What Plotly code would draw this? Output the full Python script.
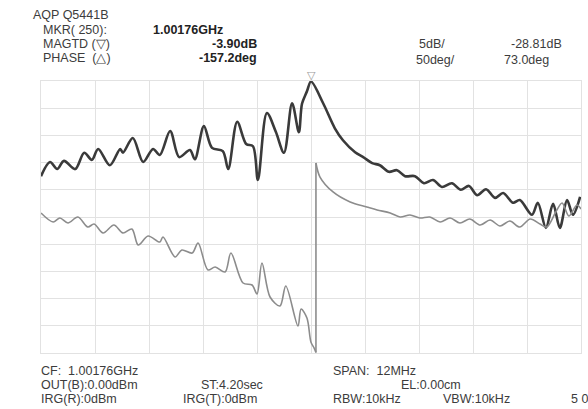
import plotly.graph_objects as go

# Frequency offset from CF (MHz), magnitude (dB)
mag_freq = [-6.00, -5.80, -5.64, -5.49, -5.24, -5.04, -4.87, -4.73, -4.47, -4.24, -4.18, -3.96,
            -3.73, -3.51, -3.36, -3.13, -2.93, -2.69, -2.58, -2.38, -2.20, -1.96, -1.84, -1.64,
            -1.44, -1.29, -1.18, -0.98, -0.78, -0.60, -0.42, -0.27, -0.20, -0.09, 0.00, 0.27,
            0.53, 0.71, 0.98, 1.16, 1.36, 1.53, 1.73, 1.91, 2.09, 2.31, 2.51, 2.71, 2.91, 3.13,
            3.33, 3.51, 3.69, 3.89, 4.09, 4.27, 4.49, 4.64, 4.91, 5.04, 5.22, 5.38, 5.53, 5.69,
            5.82, 5.98]
mag_db = [-21.3, -18.7, -20.0, -18.5, -20.0, -17.0, -18.3, -16.3, -19.3, -16.3, -17.0, -14.3,
          -18.7, -16.3, -17.4, -13.0, -17.8, -16.5, -18.2, -12.1, -16.1, -16.7, -20.0, -11.3,
          -15.4, -15.8, -22.0, -9.7, -13.2, -17.0, -7.9, -13.2, -8.0, -5.7, -3.9, -7.9,
          -12.5, -14.7, -16.9, -17.8, -18.9, -19.3, -20.5, -20.2, -21.3, -21.3, -22.6, -22.0, -23.3, -22.6,
          -23.8, -23.1, -24.8, -23.7, -25.3, -24.4, -26.2, -25.7, -28.4, -26.2, -30.8, -26.4, -30.8, -25.7,
          -28.4, -25.1]

# Phase (deg)
phase_freq = [-6.00, -5.73, -5.58, -5.40, -5.18, -4.96, -4.82, -4.62, -4.38, -4.18, -3.98, -3.84,
              -3.62, -3.36, -3.29, -3.02, -2.87, -2.64, -2.51, -2.29, -2.13, -1.91, -1.78, -1.51,
              -1.31, -1.20, -1.09, -0.91, -0.69, -0.56, -0.29, -0.22, -0.09, 0.00, 0.07, 0.11,
              0.11, 0.20, 0.49, 0.87, 1.24, 1.47, 1.76, 1.98, 2.20, 2.42, 2.64, 2.87, 3.09, 3.31,
              3.53, 3.76, 3.98, 4.20, 4.42, 4.64, 4.87, 5.09, 5.24, 5.44, 5.58, 5.73, 5.91, 6.00]
phase_deg = [80.4, 63.8, 71.2, 62.0, 73.0, 54.6, 60.1, 43.6, 58.3, 43.6, 50.9, 21.5,
             38.1, 27.0, 36.2, -0.5, 12.3, 6.8, 25.2, -24.4, -18.9, -28.1, 6.8, -48.3,
             -52.0, -68.5, -11.5, -74.0, -90.6, -53.8, -127.3, -96.1, -112.6, -157.2, -168.0, -176.0,
             172.3, 146.5, 119.0, 100.6, 91.4, 85.9, 80.4, 73.0, 76.7, 71.2, 73.0, 63.8, 71.2, 62.0,
             69.3, 58.3, 67.5, 56.5, 65.6, 54.6, 69.3, 60.1, 54.6, 82.2, 98.7, 74.8, 95.1, 87.7]

MAG_REF, MAG_DIV = -28.81, 5.0
PH_REF, PH_DIV = 73.0, 50.0
SPAN = 12.0

# split phase at wrap
split = next(i for i in range(1, len(phase_deg)) if abs(phase_deg[i] - phase_deg[i - 1]) > 180)

W, H = 588, 409
L, R, T, B = 41, 581, 81, 353
MAG_COL = "#3a3a3a"
PH_COL = "#8c8c8c"

fig = go.Figure()
fig.add_trace(go.Scatter(x=phase_freq[:split], y=phase_deg[:split], yaxis="y2", mode="lines",
                         line=dict(color=PH_COL, width=1.6, shape="spline", smoothing=0.9),
                         hoverinfo="skip", showlegend=False))
fig.add_trace(go.Scatter(x=phase_freq[split - 1:split + 1], y=phase_deg[split - 1:split + 1], yaxis="y2",
                         mode="lines", line=dict(color=PH_COL, width=1.6),
                         hoverinfo="skip", showlegend=False))
fig.add_trace(go.Scatter(x=phase_freq[split:], y=phase_deg[split:], yaxis="y2", mode="lines",
                         line=dict(color=PH_COL, width=1.6, shape="spline", smoothing=0.9),
                         hoverinfo="skip", showlegend=False))
fig.add_trace(go.Scatter(x=mag_freq, y=mag_db, mode="lines",
                         line=dict(color=MAG_COL, width=2.6, shape="spline", smoothing=0.9),
                         hoverinfo="skip", showlegend=False))

grid = "#e2e2e2"
fig.update_layout(
    width=W, height=H, margin=dict(l=L, r=W - R, t=T, b=H - B),
    paper_bgcolor="white", plot_bgcolor="white",
    font=dict(family="Liberation Sans, Arial, sans-serif", size=12.5, color="#3c3c3c"),
    xaxis=dict(range=[-SPAN / 2, SPAN / 2], tick0=-SPAN / 2, dtick=SPAN / 10, showticklabels=False,
               ticks="", showgrid=True, gridcolor=grid, gridwidth=1, zeroline=False,
               showline=True, mirror=True, linecolor=grid, linewidth=1),
    yaxis=dict(range=[MAG_REF - 5 * MAG_DIV, MAG_REF + 5 * MAG_DIV], tick0=MAG_REF, dtick=MAG_DIV,
               showticklabels=False, ticks="", showgrid=True, gridcolor=grid, gridwidth=1,
               zeroline=False, showline=True, mirror=True, linecolor=grid, linewidth=1),
    yaxis2=dict(range=[PH_REF - 5 * PH_DIV, PH_REF + 5 * PH_DIV], overlaying="y", side="right",
                showticklabels=False, ticks="", showgrid=False, zeroline=False, showline=False),
)


def px(x, y, text, anchor="left", bold=False, size=12.5, color="#3c3c3c"):
    fig.add_annotation(x=(x - L) / (R - L), y=(B - y) / (B - T), xref="paper", yref="paper",
                       text=f"<b>{text}</b>" if bold else text, showarrow=False,
                       xanchor=anchor, yanchor="middle", borderpad=0,
                       font=dict(size=size, color=color))


# marker
fig.add_annotation(x=0, y=mag_db[mag_freq.index(0.0)], xref="x", yref="y", text="▽", showarrow=False,
                   yanchor="bottom", yshift=-3, font=dict(family="DejaVu Sans", size=11, color="#9a9a9a"))

# header
px(32, 15, "AQP Q5441B")
px(42, 30, "MKR(\u00a0250):")
px(42, 44, "MAGTD (▽)")
px(42, 58, "PHASE\u00a0\u00a0(△)")
px(152, 30, "1.00176GHz", bold=True, color="#222")
px(258, 44, "-3.90dB", anchor="right", bold=True, color="#222")
px(258, 58, "-157.2deg", anchor="right", bold=True, color="#222")
px(418, 44, "5dB/")
px(563, 44, "-28.81dB", anchor="right")
px(415, 60, "50deg/")
px(503, 60, "73.0deg")

# footer
px(40, 371, "CF:\u00a0 1.00176GHz")
px(40, 385, "OUT(B):0.00dBm")
px(40, 399, "IRG(R):0dBm")
px(200, 385, "ST:4.20sec")
px(182, 399, "IRG(T):0dBm")
px(332, 371, "SPAN:\u00a0 12MHz")
px(400, 385, "EL:0.00cm")
px(332, 399, "RBW:10kHz")
px(442, 399, "VBW:10kHz")
px(570, 399, "5\u00a00")

fig.write_html("out.html", config={"displayModeBar": False},
               post_script="document.body.style.margin='0';")
